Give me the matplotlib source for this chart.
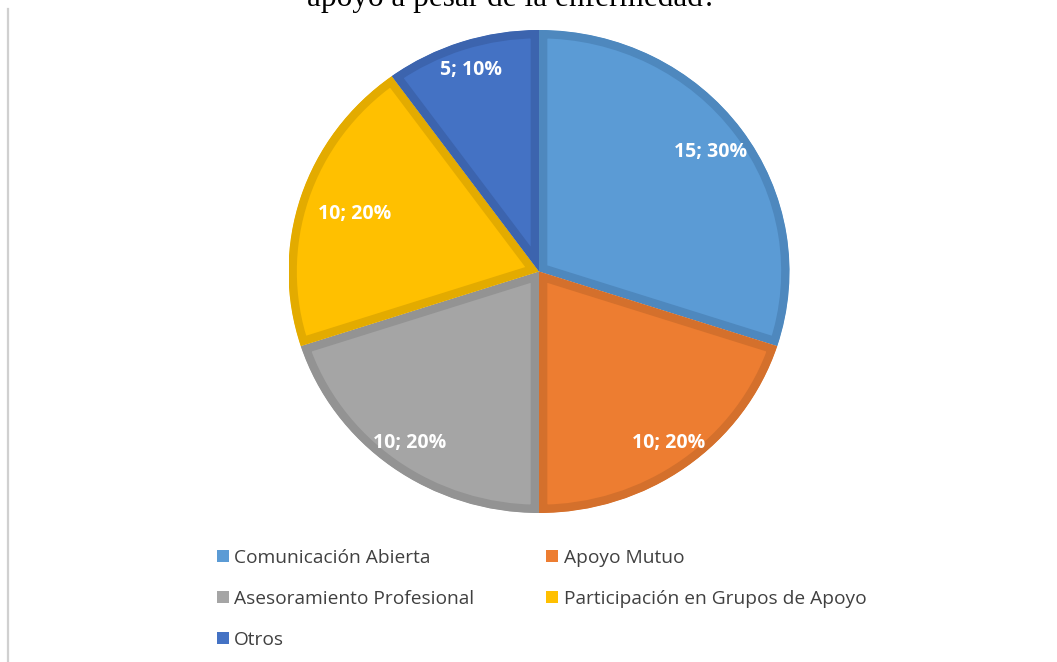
import numpy as np
import matplotlib
matplotlib.use("Agg")
import matplotlib.pyplot as plt
from matplotlib.lines import Line2D
from matplotlib.patches import Patch

# data
categories = ["Comunicación Abierta", "Apoyo Mutuo", "Asesoramiento Profesional",
              "Participación en Grupos de Apoyo", "Otros"]
counts = [15, 10, 10, 10, 5]
title_tail = "apoyo a pesar de la enfermedad?"

# styling
fills = ["#5B9BD5", "#ED7D31", "#A5A5A5", "#FFC000", "#4472C4"]
borders = ["#4E88BE", "#D4702C", "#939393", "#E3AB00", "#3C64AE"]
label_dist = [0.845, 0.877, 0.877, 0.772, 0.879]

W, H = 1057, 662
fig = plt.figure(figsize=(W / 100, H / 100), dpi=100)
fig.patch.set_facecolor("white")

# pie area (slightly elliptical as in the source)
cx, cy, rx, ry = 539, 271.5, 250.5, 241.5
ax = fig.add_axes([(cx - rx) / W, 1 - (cy + ry) / H, 2 * rx / W, 2 * ry / H])

total = sum(counts)


def fmt(pct):
    return "%d; %d%%" % (round(pct * total / 100), round(pct))


wedges, texts, autotexts = ax.pie(counts, colors=fills, startangle=90, counterclock=False,
                                  autopct=fmt, pctdistance=0.85, radius=1,
                                  wedgeprops=dict(linewidth=0))
ax.set_xlim(-1, 1)
ax.set_ylim(-1, 1)
ax.set_aspect("auto")
ax.axis("off")

# darker inner border on each slice (stroke clipped to the slice itself)
for w, bc in zip(wedges, borders):
    w.set_edgecolor(bc)
    w.set_linewidth(12)
    w.set_clip_on(True)
    w.set_clip_path(w)

for w, t, d in zip(wedges, autotexts, label_dist):
    ang = np.deg2rad((w.theta1 + w.theta2) / 2)
    t.set_position((d * np.cos(ang), d * np.sin(ang)))
    t.set_color("white")
    t.set_fontsize(14)
    t.set_fontweight("bold")
    t.set_fontfamily("Open Sans")
    t.set_ha("center")
    t.set_va("center")

# legend, row-wise order like the original
order = [0, 2, 4, 1, 3]
handles = [Patch(facecolor=fills[i], edgecolor="none") for i in order]
labels = [categories[i] for i in order]
leg = fig.legend(handles, labels, ncol=2, loc="upper left",
                 bbox_to_anchor=(217 / W, 1 - 549 / H), frameon=False,
                 prop={"family": "Open Sans", "size": 13.8},
                 handlelength=0.6, handleheight=0.6, handletextpad=0.3,
                 labelspacing=1.2, columnspacing=3.75, borderpad=0,
                 borderaxespad=0)
for t in leg.get_texts():
    t.set_color("#404040")

# cut-off title at the top
fig.text(512 / W, 1 - 6 / H, title_tail, ha="center", va="baseline",
         fontsize=22.5, family="Liberation Serif", color="black")

# grey frame line at the left
fig.add_artist(Line2D([8 / W, 8 / W], [0, 1 - 9 / H], color="#d0d0d0", lw=1.6,
                      transform=fig.transFigure))

fig.savefig("out.png", dpi=100, facecolor="white")
